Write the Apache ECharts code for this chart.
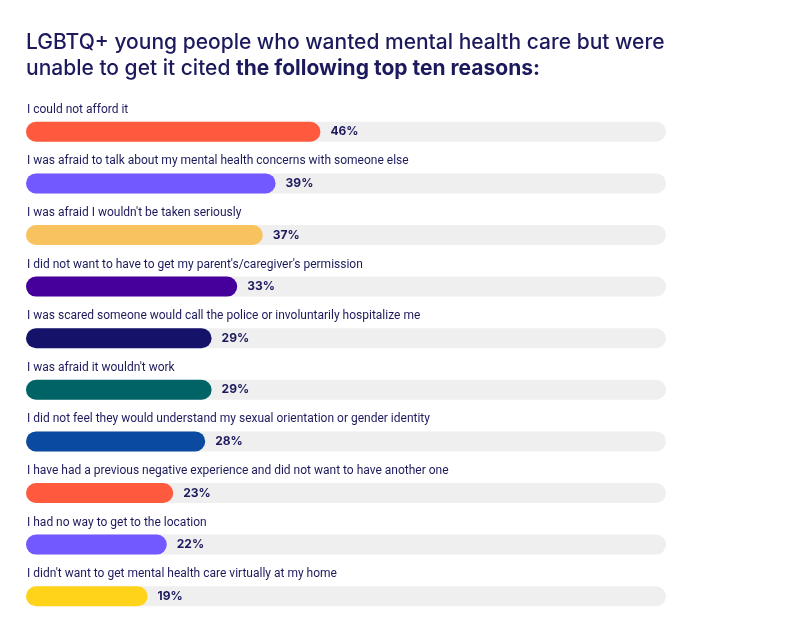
<!DOCTYPE html>
<html>
<head>
<meta charset="utf-8">
<script src="https://cdn.jsdelivr.net/npm/echarts@6/dist/echarts.min.js"></script>
<style>
html,body{margin:0;padding:0;background:#fff;}
#chart{width:800px;height:636px;}
</style>
</head>
<body>
<div id="chart"></div>
<script>
const categories = [
  "I could not afford it",
  "I was afraid to talk about my mental health concerns with someone else",
  "I was afraid I wouldn't be taken seriously",
  "I did not want to have to get my parent's/caregiver's permission",
  "I was scared someone would call the police or involuntarily hospitalize me",
  "I was afraid it wouldn't work",
  "I did not feel they would understand my sexual orientation or gender identity",
  "I have had a previous negative experience and did not want to have another one",
  "I had no way to get to the location",
  "I didn't want to get mental health care virtually at my home"
];
const values = [46, 39, 37, 33, 29, 29, 28, 23, 22, 19];
const barColors = ["#ff5a3d", "#7159ff", "#f8c25e", "#45009c", "#15126a", "#006467", "#0a4aa0", "#ff5a3d", "#7159ff", "#ffd319"];

const navy = "#1c1a5c";
const chart = echarts.init(document.getElementById('chart'));
chart.setOption({
  animation: false,
  title: {
    left: 26, top: 30, padding: 0,
    text: '{a|LGBTQ+ young people who wanted mental health care but were}\n{a|unable to get it cited }{b|the following top ten reasons:}',
    textStyle: {
      rich: {
        a: { fontFamily: 'Inter', fontSize: 21, fontWeight: 500, color: navy, lineHeight: 26 },
        b: { fontFamily: 'Inter', fontSize: 21, fontWeight: 700, color: navy, lineHeight: 26 }
      }
    }
  },
  grid: { left: 26, width: 640, top: 106, height: 516 },
  xAxis: { type: 'value', min: 0, max: 100, show: false },
  yAxis: {
    type: 'category', inverse: true, data: categories,
    axisLine: { show: false }, axisTick: { show: false },
    axisLabel: {
      inside: true, margin: 1, align: 'left', verticalAlign: 'bottom',
      padding: [0, 0, 16, 0],
      fontFamily: 'Roboto', fontSize: 12, color: navy
    }
  },
  series: [{
    type: 'bar',
    data: values.map((v, i) => ({ value: v, itemStyle: { color: barColors[i] } })),
    barWidth: 20,
    showBackground: true,
    backgroundStyle: { color: '#efefef', borderRadius: 10 },
    itemStyle: { borderRadius: 10 },
    label: {
      show: true, position: 'right', distance: 10,
      formatter: '{c}%', fontFamily: 'Inter', fontWeight: 700, fontSize: 12, color: navy
    }
  }]
});
</script>
</body>
</html>
